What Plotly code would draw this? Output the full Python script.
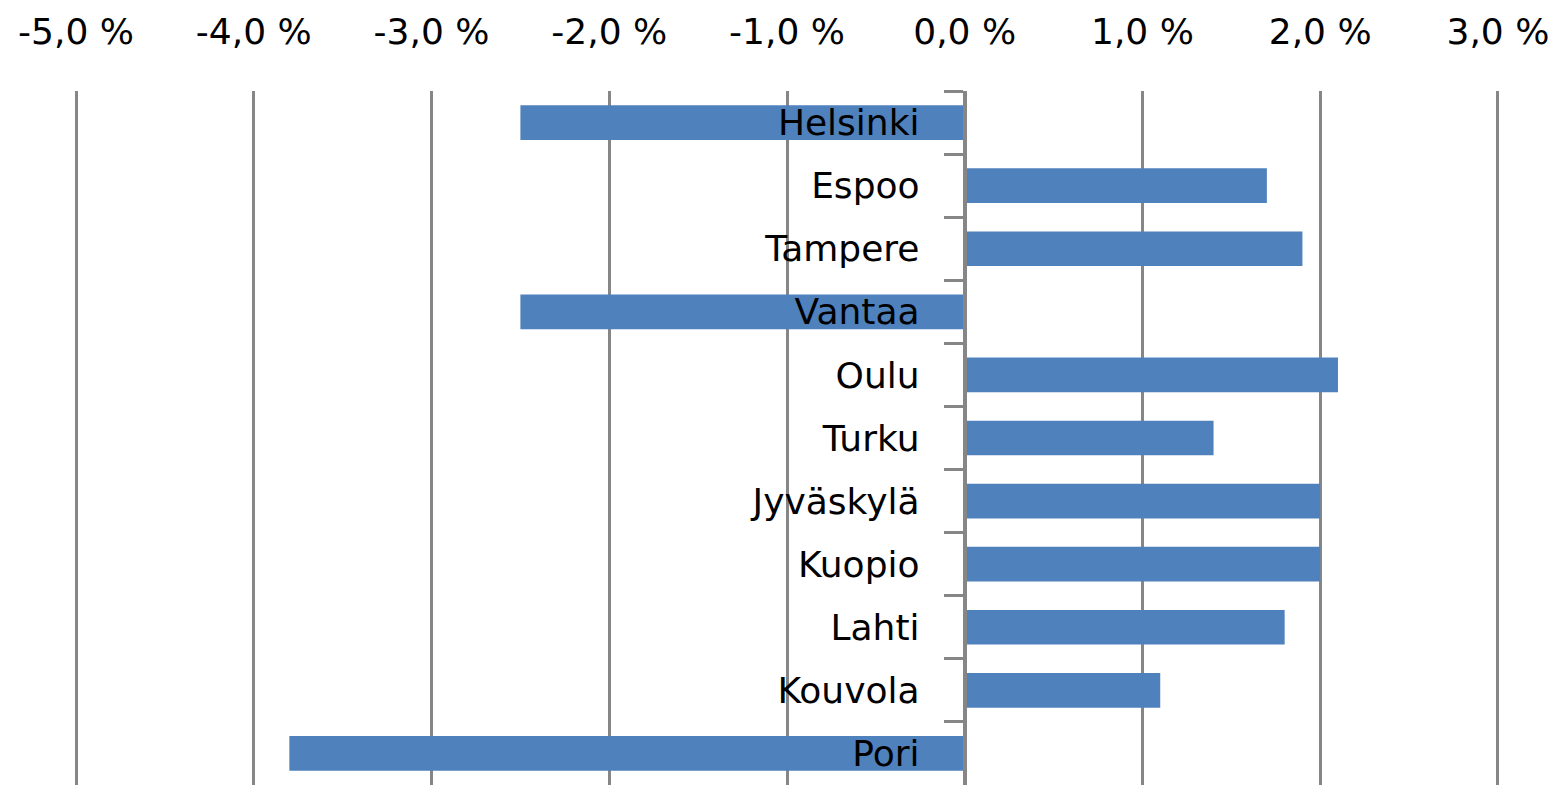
import plotly.graph_objects as go

cities = ["Helsinki", "Espoo", "Tampere", "Vantaa", "Oulu", "Turku",
          "Jyväskylä", "Kuopio", "Lahti", "Kouvola", "Pori"]
values = [-2.5, 1.7, 1.9, -2.5, 2.1, 1.4, 2.0, 2.0, 1.8, 1.1, -3.8]

x_ticks = [-5, -4, -3, -2, -1, 0, 1, 2, 3]
x_tick_labels = ["-5,0 %", "-4,0 %", "-3,0 %", "-2,0 %", "-1,0 %",
                 "0,0 %", "1,0 %", "2,0 %", "3,0 %"]

GRID = "#868686"
FONT = dict(family="DejaVu Sans", size=36, color="#000000")

fig = go.Figure(go.Bar(
    x=values, y=cities, orientation="h",
    marker=dict(color="#4F81BD", line=dict(width=0)),
    hoverinfo="x+y",
))

# the page body has an 8px default margin, so the figure is sized to fit
fig.update_layout(
    width=1548, height=778,
    margin=dict(l=67, r=57, t=83, b=1),
    paper_bgcolor="white", plot_bgcolor="white",
    bargap=0.45,
    showlegend=False,
    font=FONT,
    xaxis=dict(
        range=[-5.006, 3.006], side="top",
        tickvals=x_ticks, ticktext=x_tick_labels,
        showgrid=True, gridcolor=GRID, gridwidth=3,
        zeroline=False, showline=False, ticks="",
        ticklabelstandoff=39,
        tickfont=FONT,
    ),
    yaxis=dict(
        type="category",
        categoryorder="array", categoryarray=cities,
        range=[10.5, -0.5],
        anchor="free", position=5.006 / 8.012, side="left",
        showline=True, linecolor=GRID, linewidth=4,
        showgrid=False, zeroline=False,
        ticks="outside", tickson="boundaries", ticklen=19,
        tickwidth=3, tickcolor=GRID,
        ticklabelstandoff=36,
        tickfont=FONT,
    ),
)

fig.write_html("out.html")
